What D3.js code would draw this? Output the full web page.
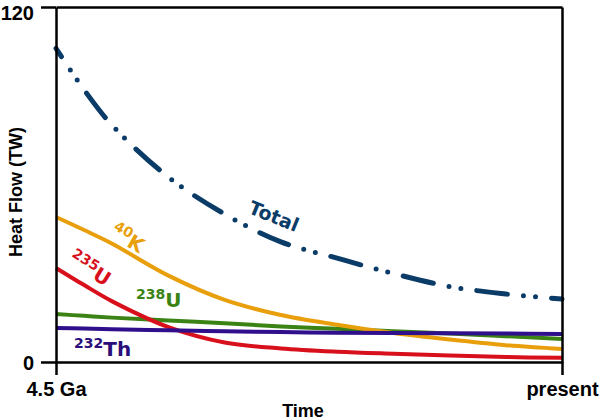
<!DOCTYPE html>
<html><head><meta charset="utf-8">
<script src="https://cdn.jsdelivr.net/npm/d3@7"></script>
<style>body{margin:0;background:#fff}</style>
</head><body>
<svg id="c" width="600" height="420"></svg>
<script>
// Time in Ga before present
const times = [4.5, 4.25, 4.0, 3.5, 3.0, 2.5, 2.0, 1.5, 1.0, 0.5, 0];
const totalVals = [106, 92, 80, 62.5, 50, 40.6, 35.1, 29.9, 25.5, 23.0, 21.3];
const k40Vals   = [49, 44.6, 40.0, 29.2, 21.0, 15.9, 12.6, 9.8, 7.6, 5.7, 4.4];
const u235Vals  = [31.8, 26.0, 20.5, 11.8, 6.6, 4.6, 3.5, 2.8, 2.2, 1.7, 1.4];
const u238Vals  = [16.2, 15.6, 15.0, 14.0, 13.1, 12.0, 11.2, 10.4, 9.6, 8.7, 7.8];
const th232Vals = [11.5, 11.3, 11.1, 10.7, 10.4, 10.1, 9.9, 9.8, 9.7, 9.6, 9.5];
const yTicks = [0, 120];
const xTicks = [4.5, 0];
const xTickLabels = ["4.5 Ga", "present"];

const svg = d3.select("#c");
const L = 56, R = 562, T = 7, B = 362;
const x = d3.scaleLinear().domain([4.5, 0]).range([L, R]);
const y = d3.scaleLinear().domain([0, 120]).range([B, T]);

const line = vals => d3.line()
  .x((d, i) => x(times[i]))
  .y(d => y(d))
  .curve(d3.curveCatmullRom.alpha(0.5))(vals);

const order = [u238Vals, u235Vals, k40Vals, th232Vals];
const colors = new Map([[th232Vals,"#2f0f8c"],[u238Vals,"#3b8314"],[u235Vals,"#d8101c"],[k40Vals,"#e99f0c"]]);
order.forEach(v => {
  svg.append("path").attr("d", line(v)).attr("fill", "none")
    .attr("stroke", colors.get(v)).attr("stroke-width", 4);
});

svg.append("path").attr("d", line(totalVals)).attr("fill", "none")
  .attr("stroke", "#0b3c68").attr("stroke-width", 5)
  .attr("stroke-linecap", "round")
  .attr("stroke-dasharray", "31,16,0,12,0,16")
  .attr("stroke-dashoffset", 21);

// Axes
const fontAxis = "'Liberation Sans', Arial, sans-serif";
const styleAxis = g => {
  g.selectAll("path.domain").attr("stroke", "#000").attr("stroke-width", 2.5);
  g.selectAll(".tick line").attr("stroke", "#000").attr("stroke-width", 2.5);
  g.selectAll("text").attr("fill", "#000").attr("font-family", fontAxis)
    .attr("font-weight", "bold").attr("font-size", 20);
};
svg.append("g").attr("transform", `translate(${L},0)`)
  .call(d3.axisLeft(y).tickValues(yTicks).tickSize(15).tickSizeOuter(0).tickPadding(7).tickFormat(d3.format("d")))
  .call(styleAxis)
  .call(g => g.selectAll(".tick text").attr("dy", d => d === 120 ? "0.62em" : "0.36em"));
svg.append("g").attr("transform", `translate(0,${B})`)
  .call(d3.axisBottom(x).tickValues(xTicks).tickSize(13).tickSizeOuter(0).tickPadding(7)
    .tickFormat((d, i) => xTickLabels[i]))
  .call(styleAxis);
svg.append("g").attr("transform", `translate(0,${T})`)
  .call(d3.axisTop(x).tickValues([]).tickSizeOuter(0)).call(styleAxis);
svg.append("g").attr("transform", `translate(${R},0)`)
  .call(d3.axisRight(y).tickValues([]).tickSizeOuter(0)).call(styleAxis);

// Axis titles
svg.append("text").attr("x", 303).attr("y", 417).attr("text-anchor", "middle")
  .attr("font-family", fontAxis).attr("font-weight", "bold").attr("font-size", 18).text("Time");
svg.append("text").attr("transform", "translate(22,192) rotate(-90)").attr("text-anchor", "middle")
  .attr("font-family", fontAxis).attr("font-weight", "bold").attr("font-size", 18).text("Heat Flow (TW)");

// Series labels
const fontLab = "'DejaVu Sans', Verdana, sans-serif";
svg.append("text").attr("transform", "translate(274,216) rotate(22)")
  .attr("text-anchor", "middle").attr("dominant-baseline", "central")
  .attr("font-family", fontLab).attr("font-weight", "bold").attr("font-size", 19)
  .attr("fill", "#0b3c68").text("Total");

function isoLabel(tx, ty, rot, sup, main, color) {
  const t = svg.append("text").attr("transform", `translate(${tx},${ty}) rotate(${rot})`)
    .attr("font-family", fontLab).attr("font-weight", "bold").attr("fill", color);
  t.append("tspan").attr("font-size", 14).text(sup);
  t.append("tspan").attr("font-size", 20).attr("dy", 8).text(main);
}
isoLabel(113, 229, 30, "40", "K", "#e99f0c");
isoLabel(71, 256, 32, "235", "U", "#d8101c");
isoLabel(136, 299, 0, "238", "U", "#3b8314");
isoLabel(74, 348, 0, "232", "Th", "#2a0f7a");
</script>
</body></html>
